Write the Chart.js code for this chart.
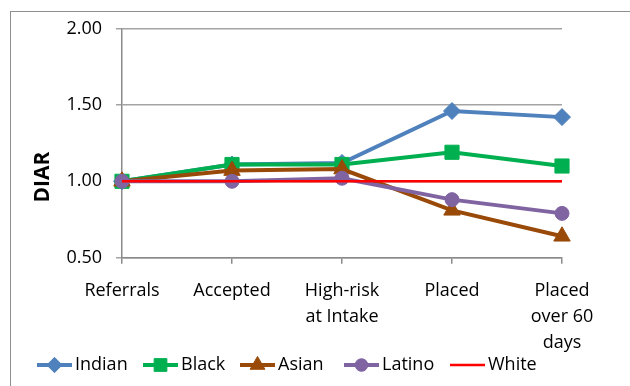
<!DOCTYPE html>
<html>
<head>
<meta charset="utf-8">
<script src="https://cdn.jsdelivr.net/npm/chart.js@4/dist/chart.umd.min.js"></script>
<style>
  html, body { margin: 0; padding: 0; background: #fff; }
  #wrap { position: relative; width: 630px; height: 386px; overflow: hidden; }
  #frame { position: absolute; left: 10px; top: 11px; width: 700px; height: 500px;
           border-left: 1px solid #8f8f8f; border-top: 1px solid #8f8f8f; pointer-events: none; }
  canvas { position: absolute; left: 0; top: 0; }
</style>
</head>
<body>
<div id="wrap">
  <canvas id="c" width="630" height="386"></canvas>
  <div id="frame"></div>
</div>
<script>
// Stages of the process
const categories = ['Referrals', 'Accepted', ['High-risk', 'at Intake'], 'Placed', ['Placed', 'over 60', 'days']];

// Disparity index per group at each stage
const indian = [1.00, 1.11, 1.12, 1.46, 1.42];
const black  = [1.00, 1.11, 1.11, 1.19, 1.10];
const asian  = [1.00, 1.07, 1.08, 0.81, 0.64];
const latino = [1.00, 1.00, 1.02, 0.88, 0.79];
const white  = [1.00, 1.00, 1.00, 1.00, 1.00];

// Value axis ticks
const yTicks = [0.50, 1.00, 1.50, 2.00];

const FONT = "'Open Sans', 'Liberation Sans', sans-serif";

function series(label, data, color, style, radius, width, order) {
  return {
    label, data,
    borderColor: color, backgroundColor: color,
    pointBackgroundColor: color, pointBorderColor: color,
    pointStyle: style, pointRadius: radius, pointHoverRadius: radius,
    pointBorderWidth: 1,
    borderWidth: width, tension: 0, order
  };
}

const datasets = [
  series('Indian', indian, '#4F81BD', 'rectRot', 8.5, 4, 5),
  series('Black',  black,  '#00B050', 'rect', 10, 4, 4),
  series('Asian',  asian,  '#9A4A08', 'triangle', 9.5, 4, 3),
  series('Latino', latino, '#8064A2', 'circle', 7, 4, 2),
  series('White',  white,  '#FF0000', false, 0, 2.5, 1)
];

// Left edge of each legend entry's line sample
const legendX = [37, 143, 240, 344, 450];

// Axis title and a line-with-marker legend drawn on the canvas
const extras = {
  id: 'extras',
  afterDraw(chart) {
    const ctx = chart.ctx;
    ctx.save();
    // y-axis title
    ctx.translate(43, 177);
    ctx.rotate(-Math.PI / 2);
    ctx.font = "bold 21px " + FONT;
    ctx.fillStyle = '#000';
    ctx.textAlign = 'center';
    ctx.textBaseline = 'middle';
    ctx.fillText('DIAR', 0, 0);
    ctx.restore();

    // legend
    ctx.save();
    ctx.font = "18px " + FONT;
    ctx.textBaseline = 'middle';
    ctx.textAlign = 'left';
    const y = 365;
    const lineLen = 35;
    chart.data.datasets.forEach((ds, i) => {
      const x = legendX[i];
      ctx.strokeStyle = ds.borderColor;
      ctx.lineWidth = ds.borderWidth;
      ctx.beginPath();
      ctx.moveTo(x, y);
      ctx.lineTo(x + lineLen, y);
      ctx.stroke();
      if (ds.pointStyle) {
        ctx.fillStyle = ds.pointBackgroundColor;
        ctx.strokeStyle = ds.pointBorderColor;
        ctx.lineWidth = 1;
        Chart.helpers.drawPoint(ctx, {
          pointStyle: ds.pointStyle,
          radius: ds.pointRadius * 0.9,
          rotation: 0,
          borderWidth: 1
        }, x + lineLen / 2, y);
      }
      ctx.fillStyle = '#000';
      ctx.fillText(ds.label, x + lineLen + 3, y);
    });
    ctx.restore();
  }
};

new Chart(document.getElementById('c'), {
  type: 'line',
  data: { labels: categories, datasets },
  plugins: [extras],
  options: {
    responsive: false,
    animation: false,
    events: [],
    layout: { padding: { left: 10, top: 28.5, right: 68, bottom: 0 } },
    plugins: { legend: { display: false }, tooltip: { enabled: false } },
    scales: {
      x: {
        offset: false,
        grid: { drawOnChartArea: false, drawTicks: true, tickLength: 6, color: '#8a8a8a', lineWidth: 1.5 },
        border: { color: '#8a8a8a', width: 1.5 },
        ticks: {
          color: '#000', padding: 14, maxRotation: 0, autoSkip: false,
          font: { family: FONT, size: 18, lineHeight: 1.444 }
        },
        afterFit(scale) { scale.height = 386 - 257.7; }
      },
      y: {
        min: 0.5, max: 2.0,
        afterBuildTicks(scale) { scale.ticks = yTicks.map(v => ({ value: v })); },
        grid: { color: '#a3a3a3', lineWidth: 1.5, tickLength: 6 },
        border: { color: '#8a8a8a', width: 1.5 },
        ticks: {
          color: '#000', padding: 14,
          font: { family: FONT, size: 18 },
          callback: v => Number(v).toFixed(2)
        },
        afterFit(scale) { scale.width = 112; }
      }
    }
  }
});
</script>
</body>
</html>
